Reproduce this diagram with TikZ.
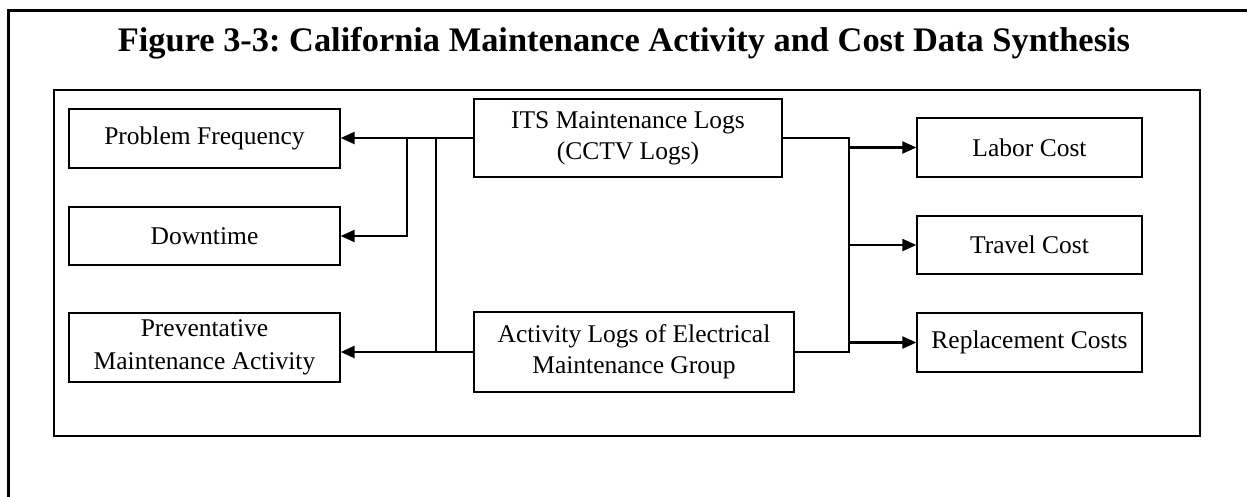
\documentclass[tikz,border=0pt]{standalone}
\usepackage{fontspec}
\setmainfont{Liberation Serif}
\usetikzlibrary{arrows.meta}
\frenchspacing
\tikzset{
  box/.style={draw=black, line width=1.3pt, minimum width=271pt, minimum height=59pt, align=center, inner sep=0pt,
    font=\fontsize{25.5}{31}\selectfont},
  conn/.style={line width=2.2pt},
  arr/.style={conn, -{Triangle[length=14pt,width=12pt]}},
}
\begin{document}
\begin{tikzpicture}[x=1pt,y=-1pt]
\useasboundingbox (0,0) rectangle (1247,496);
% outer frame (open at right and bottom)
\draw[line width=3pt] (1260,10) -- (8,10) -- (8,510);
% inner frame
\draw[line width=1.3pt] (54,90) rectangle (1200,436);
% title
\node[font=\bfseries\fontsize{34.4}{38}\selectfont] (title) at (624,43) {Figure 3-3: California Maintenance Activity and Cost Data Synthesis};
% left boxes
\node[box] (pf) at (204.5,138.5) {Problem Frequency};
\node[box, minimum height=58pt] (dt) at (204.5,236) {Downtime};
\node[box, minimum height=69pt, font=\fontsize{25.5}{33}\selectfont] (pm) at (204.5,347.5) {Preventative\\Maintenance Activity};
% centre boxes
\node[box, minimum width=308pt, minimum height=78pt] (its) at (628,138) {ITS Maintenance Logs\\(CCTV Logs)};
\node[box, minimum width=320pt, minimum height=80pt] (act) at (634,352) {Activity Logs of Electrical\\Maintenance Group};
% right boxes
\node[box, minimum width=225pt] (lc) at (1029.5,147.5) {Labor Cost};
\node[box, minimum width=225pt, minimum height=58pt] (tc) at (1029.5,245) {Travel Cost};
\node[box, minimum width=225pt] (rc) at (1029.5,342.5) {Replacement Costs};
% junction coordinates
\coordinate (jl1) at (407,138);
\coordinate (jl2) at (436,138);
\coordinate (jr) at (849,138);
% left connectors
\draw[arr] (its.west) -- (pf.east |- its.west);
\draw[arr] (jl1) |- (dt.east);
\draw[line width=1.5pt] (jl2) -- (jl2 |- act.west);
\draw[arr] (act.west) -- (pm.east |- act.west);
% right connectors
\draw[conn] (its.east) -- (jr) |- (act.east);
\draw[arr] (jr |- lc.west) -- (lc.west);
\draw[arr] (jr |- tc.west) -- (tc.west);
\draw[arr] (jr |- rc.west) -- (rc.west);
\end{tikzpicture}
\end{document}
